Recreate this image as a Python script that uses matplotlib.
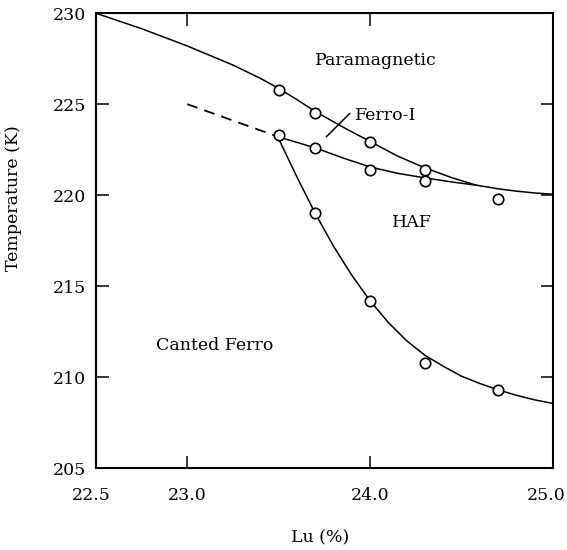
import numpy as np
import matplotlib.pyplot as plt
from matplotlib.transforms import ScaledTranslation

# --- measured points (Lu %, T in K) ---
para_x = [23.5, 23.7, 24.0, 24.3]
para_T = [225.8, 224.5, 222.9, 221.4]

ferro_x = [23.5, 23.7, 24.0, 24.3, 24.7]
ferro_T = [223.3, 222.6, 221.4, 220.8, 219.8]

canted_x = [23.7, 24.0, 24.3, 24.7]
canted_T = [219.0, 214.2, 210.8, 209.3]

# --- phase boundaries ---
upper_x = [22.5, 22.75, 23.0, 23.25, 23.4, 23.5, 23.6, 23.7, 23.85, 24.0, 24.15, 24.3,
           24.45, 24.58, 24.7, 24.8, 24.9, 25.0]
upper_T = [230.0, 229.15, 228.2, 227.15, 226.42, 225.87, 225.25, 224.6, 223.75, 222.95,
           222.15, 221.5, 220.95, 220.55, 220.35, 220.22, 220.12, 220.05]

lower_x = [23.5, 23.6, 23.7, 23.85, 24.0, 24.15, 24.3, 24.45, 24.58]
lower_T = [223.2, 222.9, 222.6, 222.05, 221.55, 221.2, 220.95, 220.72, 220.55]

dash_x = [23.0, 23.5]
dash_T = [225.0, 223.2]

cant_line_x = [23.5, 23.6, 23.7, 23.8, 23.9, 24.0, 24.1, 24.2, 24.3, 24.4, 24.5,
               24.6, 24.7, 24.8, 24.9, 25.0]
cant_line_T = [223.1, 221.0, 219.0, 217.2, 215.6, 214.2, 213.0, 212.0, 211.2, 210.6,
               210.05, 209.65, 209.3, 209.0, 208.75, 208.55]

xticks = [22.5, 23.0, 24.0, 25.0]
xticklabels = ['22.5', '23.0', '24.0', '25.0']
yticks = [205, 210, 215, 220, 225, 230]

plt.rcParams['font.family'] = ['DejaVu Serif']
fs = 12.5

fig = plt.figure(figsize=(5.67, 5.5), dpi=100)
ax = fig.add_axes([0.169, 0.149, 0.806, 0.827])

ax.plot(upper_x, upper_T, color='black', lw=1.1)
ax.plot(lower_x, lower_T, color='black', lw=1.1)
ax.plot(cant_line_x, cant_line_T, color='black', lw=1.1)
ax.plot(dash_x, dash_T, color='black', lw=1.3, dashes=(6, 4))

mk = dict(marker='o', ms=7.5, mfc='white', mec='black', mew=1.2, ls='none', zorder=5)
ax.plot(para_x, para_T, **mk)
ax.plot(ferro_x, ferro_T, **mk)
ax.plot(canted_x, canted_T, **mk)

ax.text(24.03, 227.4, 'Paramagnetic', ha='center', va='center', fontsize=fs)
ax.text(23.92, 224.4, 'Ferro-I', ha='left', va='center', fontsize=fs)
ax.annotate('', xy=(23.75, 223.1), xytext=(23.90, 224.6),
            arrowprops=dict(arrowstyle='-', color='black', lw=1.1))
ax.text(24.23, 218.5, 'HAF', ha='center', va='center', fontsize=fs)
ax.text(23.15, 211.75, 'Canted Ferro', ha='center', va='center', fontsize=fs)

ax.set_xlim(22.5, 25.0)
ax.set_ylim(205, 230)
ax.set_xticks(xticks)
ax.set_xticklabels(xticklabels)
ax.set_yticks(yticks)
ax.tick_params(direction='in', length=9, width=1.1, top=True, right=True,
               labelsize=fs)
ax.tick_params(axis='x', pad=14)
ax.tick_params(axis='y', pad=7)
for s in ax.spines.values():
    s.set_linewidth(1.5)

# keep the corner labels inside the picture
labs = ax.get_xticklabels()
labs[0].set_transform(labs[0].get_transform() + ScaledTranslation(-3 / 72, 0, fig.dpi_scale_trans))
labs[-1].set_transform(labs[-1].get_transform() + ScaledTranslation(-5 / 72, 0, fig.dpi_scale_trans))

ax.set_xlabel('Lu (%)', fontsize=fs)
ax.xaxis.set_label_coords(0.49, -0.135)
ax.set_ylabel('Temperature (K)', fontsize=fs)
ax.yaxis.set_label_coords(-0.162, 0.593)

fig.savefig('out.png', dpi=100)
